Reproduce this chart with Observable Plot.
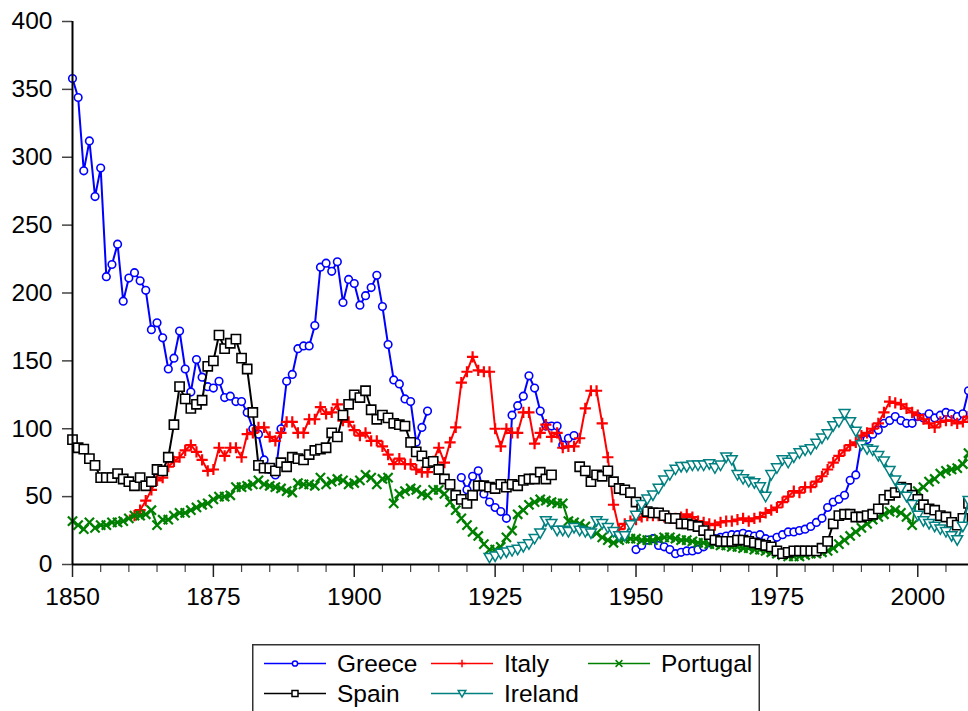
<!DOCTYPE html>
<html><head><meta charset="utf-8">
<script src="https://cdn.jsdelivr.net/npm/d3@7"></script>
<script src="https://cdn.jsdelivr.net/npm/@observablehq/plot@0.6"></script>
<style>
body{margin:0;background:#fff;font-family:"Liberation Sans",Arial,sans-serif;overflow:hidden;}
#chart{position:absolute;left:0;top:0;}
#legend{position:absolute;left:252px;top:644px;}
</style></head><body>
<div id="chart"></div><div id="legend"></div>
<script>
const years = d3.range(1850, 2010);
const yTicks = [0, 50, 100, 150, 200, 250, 300, 350, 400];
const xMajorTicks = [1850, 1875, 1900, 1925, 1950, 1975, 2000];
const xMinorTicks = [1855, 1860, 1865, 1870, 1880, 1885, 1890, 1895, 1905, 1910, 1915, 1920, 1930, 1935, 1940, 1945, 1955, 1960, 1965, 1970, 1980, 1985, 1990, 1995, 2005];

const countries = ["Greece", "Italy", "Portugal", "Spain", "Ireland"];
const colors = ["#0000ff", "#ff0000", "#008000", "#000000", "#008080"];

const greece = [
358,344,290,312,271,292,212,221,236,194,
211,215,209,202,173,178,167,144,152,172,
144,127,151,138,131,130,135,123,124,120,
120,112,100,96,77,70,66,100,135,140,
159,161,161,176,219,222,216,223,193,210,
207,191,198,204,213,190,162,136,133,122,
120,90,101,113,null,null,null,null,null,64,
55,65,69,52,46,42,39,34,110,117,
124,139,130,113,102,102,102,88,93,95,
null,null,null,null,null,null,null,null,null,null,
11,14,18,19,14,13,11,8,9,10,
10,11,13,16,19,20,21,22,22,23,
22,21,22,19,18,20,22,24,24,25,
26,28,31,34,42,46,48,51,62,66,
91,92,96,99,104,106,109,106,104,104,
109,108,111,108,110,112,111,109,111,128];

const italy = [
null,null,null,null,null,null,null,null,null,null,
null,36,40,47,55,62,64,72,76,79,
84,88,83,77,69,70,86,80,86,86,
79,96,97,101,101,94,91,97,105,105,
97,97,107,107,116,111,112,118,106,105,
99,95,97,91,91,87,81,74,78,74,
74,70,68,68,76,86,75,90,101,134,
142,153,143,142,142,100,87,100,97,97,
112,112,89,97,103,94,97,86,87,87,
93,115,128,128,104,79,44,26,30,32,
33,35,36,36,36,35,34,34,35,37,
35,32,31,30,29,31,32,32,33,34,
32,34,35,38,40,42,46,50,54,53,
57,57,61,65,70,75,80,84,88,90,
95,97,100,104,112,120,119,118,115,112,
110,107,104,101,105,106,106,104,105,109];

const portugal = [
32,29,26,31,27,29,29,31,31,32,
34,36,36,37,40,29,33,33,36,38,
38,40,42,44,45,48,50,50,51,57,
57,58,59,62,59,58,57,56,54,53,
60,59,59,58,64,59,61,63,62,59,
60,62,66,64,59,63,64,45,52,54,
56,55,52,51,55,55,52,46,40,34,
29,24,21,15,11,11,13,20,25,37,
40,44,46,48,47,46,45,45,32,31,
30,28,25,23,20,18,16,18,19,19,
19,18,18,18,19,20,20,19,18,18,
17,16,16,15,15,14,14,13,13,12,
12,11,11,10,9,8,7,6,6,6,
7,8,8,9,10,12,15,18,21,24,
27,30,33,35,37,39,40,38,35,29,
54,57,61,63,67,69,70,71,74,82];

const spain = [
92,86,85,78,73,64,64,64,67,63,
61,58,64,58,61,70,69,79,103,131,
122,115,118,121,146,150,169,159,163,166,
152,144,112,73,71,71,69,75,72,79,
78,77,81,84,85,86,97,94,110,118,
125,123,128,114,107,110,108,104,103,102,
90,83,80,75,76,70,63,59,51,48,
45,51,58,58,57,56,59,57,59,58,
62,63,63,68,63,66,null,null,null,null,
72,69,61,66,65,69,61,56,55,53,
46,41,39,38,38,36,34,34,30,30,
29,28,25,22,18,17,17,17,18,18,
17,16,15,14,13,10,8,9,10,10,
10,10,10,12,17,30,36,37,37,35,
35,36,37,41,48,51,53,57,56,51,
48,44,41,40,36,35,31,29,34,45];

const ireland = [
null,null,null,null,null,null,null,null,null,null,
null,null,null,null,null,null,null,null,null,null,
null,null,null,null,null,null,null,null,null,null,
null,null,null,null,null,null,null,null,null,null,
null,null,null,null,null,null,null,null,null,null,
null,null,null,null,null,null,null,null,null,null,
null,null,null,null,null,null,null,null,null,null,
null,null,null,null,5,6,8,9,10,11,
13,15,19,23,32,30,25,25,24,27,
25,24,23,32,30,27,24,21,21,29,
36,44,48,51,56,62,66,70,72,72,
73,73,73,74,71,73,79,77,66,63,
61,60,57,50,66,71,77,75,79,82,
84,85,89,93,96,102,105,111,105,98,
88,85,84,80,76,69,62,56,50,44,
36,32,30,28,26,24,21,18,28,47];

// custom marker symbols (size = r*r*PI in Plot)
const mk = f => ({draw(c, s) { f(c, Math.sqrt(s / Math.PI)); }});
const symCircle = mk((c, r) => { c.moveTo(r, 0); c.arc(0, 0, r, 0, 2 * Math.PI); });
const symPlus = mk((c, r) => { c.moveTo(-r, 0); c.lineTo(r, 0); c.moveTo(0, -r); c.lineTo(0, r); });
const symTimes = mk((c, r) => { c.moveTo(-r, -r); c.lineTo(r, r); c.moveTo(-r, r); c.lineTo(r, -r); });
const symSquare = mk((c, r) => { c.rect(-r, -r, 2 * r, 2 * r); });
const symTriDown = mk((c, r) => { c.moveTo(-r, -0.8 * r); c.lineTo(r, -0.8 * r); c.lineTo(0, 0.95 * r); c.closePath(); });

const seriesValues = [greece, italy, portugal, spain, ireland];
const symbols = [symCircle, symPlus, symTimes, symSquare, symTriDown];
const radii = [3.8, 5.6, 4.6, 4.6, 5.4];
const strokeWs = [1.6, 2.2, 2.2, 1.6, 1.5];
const fills = ["white", "none", "none", "white", "white"];

const series = countries.map((name, k) => ({
  name, color: colors[k], symbol: symbols[k], r: radii[k], sw: strokeWs[k], fill: fills[k],
  data: years.map((year, i) => ({year, value: seriesValues[k][i]}))
}));

const marks = [];
for (const s of series) {
  marks.push(Plot.line(s.data, {x: "year", y: "value", stroke: s.color, strokeWidth: 2}));
  marks.push(Plot.dot(s.data.filter(d => d.value != null), {x: "year", y: "value", symbol: s.symbol, r: s.r, stroke: s.color, strokeWidth: s.sw, fill: s.fill}));
}

const chart = Plot.plot({
  width: 968,
  height: 620,
  marginLeft: 72,
  marginRight: 0,
  marginTop: 21,
  marginBottom: 56,
  style: {fontFamily: "Liberation Sans, Arial, sans-serif", background: "white", overflow: "visible"},
  x: {domain: [1850, 2009]},
  y: {domain: [0, 400]},
  marks: [
    Plot.axisY({ticks: yTicks, tickSize: 10, tickPadding: 10, fontSize: 24.5, label: null, stroke: "#444", strokeWidth: 1.5, fill: "black"}),
    Plot.axisX({ticks: xMajorTicks, tickSize: 13, tickPadding: 10, fontSize: 24.5, label: null, tickFormat: d => String(d), stroke: "#222", strokeWidth: 1.5, fill: "black"}),
    Plot.axisX({ticks: xMinorTicks, tickSize: 8, label: null, fill: "none", stroke: "#444", strokeWidth: 1.2}),
    ...marks,
    Plot.ruleX([1850], {y1: 0, y2: 400, stroke: "black", strokeWidth: 2}),
    Plot.ruleY([0], {stroke: "black", strokeWidth: 2})
  ]
});
document.getElementById("chart").append(chart);

// legend below the plot
const lg = d3.select("#legend").append("svg").attr("width", 508).attr("height", 67)
  .style("font-family", "Liberation Sans, Arial, sans-serif");
lg.append("rect").attr("x", 0.75).attr("y", 0.75).attr("width", 506.5).attr("height", 90)
  .attr("fill", "white").attr("stroke", "#333").attr("stroke-width", 1.5);
const pos = [[12, 19.5], [179, 19.5], [336, 19.5], [12, 49.5], [179, 49.5]];
const legR = [2.6, 3.8, 3.4, 3.0, 3.8];
series.forEach((s, k) => {
  const [x0, y0] = pos[k];
  const g = lg.append("g");
  g.append("line").attr("x1", x0).attr("x2", x0 + 62).attr("y1", y0).attr("y2", y0)
    .attr("stroke", s.color).attr("stroke-width", 1.5);
  g.append("path").attr("d", d3.symbol(s.symbol, legR[k] * legR[k] * Math.PI)())
    .attr("transform", `translate(${x0 + 31},${y0})`)
    .attr("stroke", s.color).attr("stroke-width", 1.5).attr("fill", s.fill);
  g.append("text").attr("x", x0 + 73).attr("y", y0).attr("dy", "0.36em")
    .attr("font-size", 24.5).attr("fill", "black").text(s.name);
});
</script>
</body></html>
